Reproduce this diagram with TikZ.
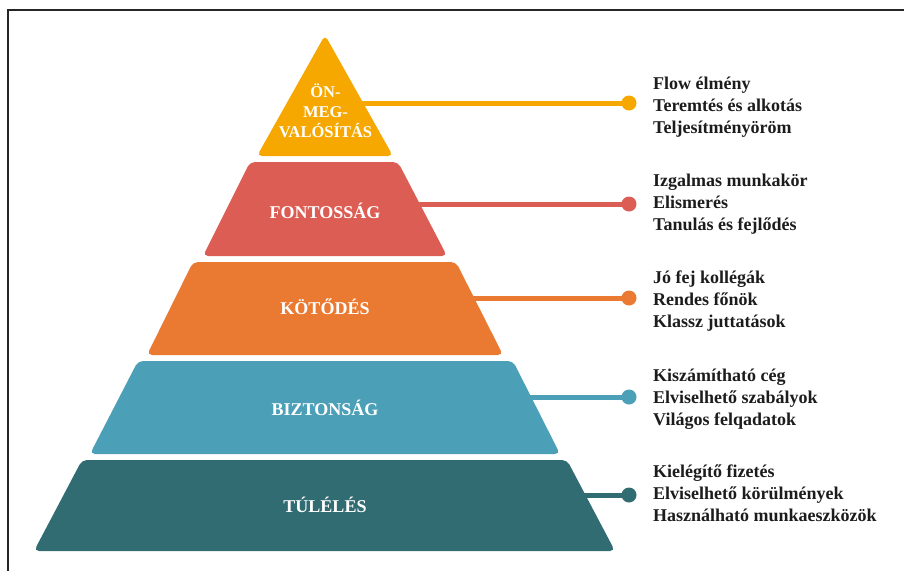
\documentclass[tikz,border=0pt]{standalone}
\usepackage{fontspec}
\setmainfont{Liberation Serif}
\definecolor{cYel}{HTML}{F6A800}
\definecolor{cRed}{HTML}{DC5D54}
\definecolor{cOra}{HTML}{EA7A32}
\definecolor{cBlu}{HTML}{4B9FB7}
\definecolor{cTea}{HTML}{326C73}
\definecolor{cTxt}{HTML}{1C1C1C}
\newcommand{\threelines}[3]{\vtop{\baselineskip=22pt\hbox{#1}\hbox{#2}\hbox{#3}}}
\newcommand{\centeredthree}[3]{\vtop{\baselineskip=20pt\halign{\hfil##\hfil\cr#1\cr#2\cr#3\cr}}}
\begin{document}
\begin{tikzpicture}[x=1pt,y=-1pt,
  tier/.style={rounded corners=5pt},
  lbl/.style={text=white, inner sep=0pt, anchor=base, font=\bfseries\fontsize{18}{20}\selectfont},
  items/.style={text=cTxt, inner sep=0pt, anchor=base west, font=\bfseries\fontsize{18}{22}\selectfont},
  dotend/.style={circle, inner sep=0pt, minimum size=15pt},
  link/.style={line width=5pt}]
\useasboundingbox (0,0) rectangle (904,571);
% frame
\draw[line width=1.3pt, black!85] (8,571) -- (8,10) -- (904,10);

% link start points
\coordinate (s1) at (340,103);
\coordinate (s2) at (380,204);
\coordinate (s3) at (440,298);
\coordinate (s4) at (500,397);
\coordinate (s5) at (560,495);
% dots
\node[dotend, fill=cYel] (d1) at (629,103) {};
\node[dotend, fill=cRed] (d2) at (629,204) {};
\node[dotend, fill=cOra] (d3) at (629,298) {};
\node[dotend, fill=cBlu] (d4) at (629,397) {};
\node[dotend, fill=cTea] (d5) at (629,495) {};
\draw[link, cYel] (s1) -- (d1.center);
\draw[link, cRed] (s2) -- (d2.center);
\draw[link, cOra] (s3) -- (d3.center);
\draw[link, cBlu] (s4) -- (d4.center);
\draw[link, cTea] (s5) -- (d5.center);

% tiers
\fill[tier, cYel] (325,35) -- (393,156) -- (257,156) -- cycle;
\fill[tier, cRed] (250,162) -- (398,162) -- (447,256) -- (203,256) -- cycle;
\fill[tier, cOra] (193,262) -- (456,262) -- (503,355) -- (147,355) -- cycle;
\fill[tier, cBlu] (138,361) -- (513,361) -- (560,454) -- (90,454) -- cycle;
\fill[tier, cTea] (82,460) -- (567,460) -- (615,551) -- (34,551) -- cycle;

% tier labels
\node[lbl, font=\bfseries\fontsize{16.5}{20}\selectfont] (t1) at (325.5,97.7)
  {\centeredthree{ÖN-}{MEG-}{VALÓSÍTÁS}};
\node[lbl] (t2) at (325,218) {FONTOSSÁG};
\node[lbl] (t3) at (325,314) {KÖTŐDÉS};
\node[lbl] (t4) at (325,415) {BIZTONSÁG};
\node[lbl] (t5) at (325,512) {TÚLÉLÉS};

% item lists
\node[items] (i1) at (653,89) {\threelines{Flow élmény}{Teremtés és alkotás}{Teljesítményöröm}};
\node[items] (i2) at (653,186) {\threelines{Izgalmas munkakör}{Elismerés}{Tanulás és fejlődés}};
\node[items] (i3) at (653,283) {\threelines{Jó fej kollégák}{Rendes főnök}{Klassz juttatások}};
\node[items] (i4) at (653,381) {\threelines{Kiszámítható cég}{Elviselhető szabályok}{Világos felqadatok}};
\node[items] (i5) at (653,477) {\threelines{Kielégítő fizetés}{Elviselhető körülmények}{Használható munkaeszközök}};
\end{tikzpicture}
\end{document}
